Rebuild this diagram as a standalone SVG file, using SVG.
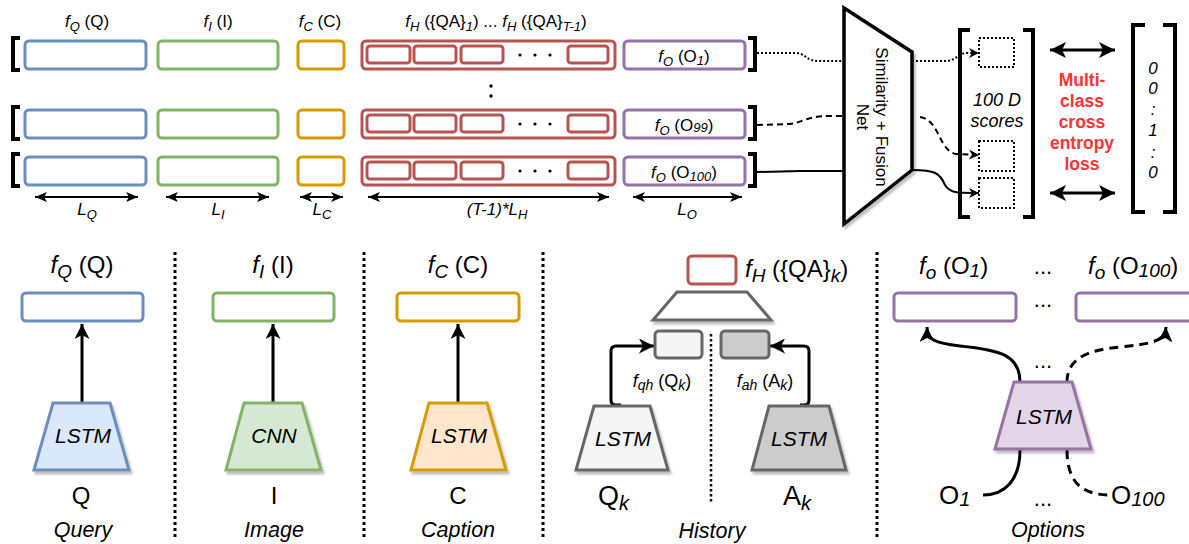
<svg xmlns="http://www.w3.org/2000/svg" width="1189" height="544" viewBox="0 0 1189 544">
<style>
.t{font-family:"Liberation Sans",Arial,Helvetica,sans-serif;fill:#000}
.i{font-style:italic}
.blue{fill:#fff;stroke:#6C8EBF;stroke-width:3}
.green{fill:#fff;stroke:#82B366;stroke-width:3}
.orange{fill:#fff;stroke:#D79B00;stroke-width:3}
.red{fill:#fff;stroke:#B85450;stroke-width:3}
.purple{fill:#fff;stroke:#9673A6;stroke-width:3}
.brk{fill:none;stroke:#000;stroke-width:4}
.sep{fill:none;stroke:#000;stroke-width:3;stroke-dasharray:3 3}
.ln{fill:none;stroke:#000}
.dsq{fill:#fff;stroke:#000;stroke-width:2;stroke-dasharray:2 2}
.loss{font-family:"Liberation Sans",Arial,sans-serif;font-weight:bold;fill:#FF3333;font-size:17.5px}
</style>
<defs>
<filter id="sh" x="-20%" y="-20%" width="150%" height="150%">
<feDropShadow dx="2" dy="3" stdDeviation="1.2" flood-color="#000" flood-opacity="0.25"/>
</filter>
<marker id="aS" markerUnits="userSpaceOnUse" markerWidth="10" markerHeight="10" refX="10" refY="5" orient="auto" viewBox="0 0 10 10">
<path d="M0,0 L10,5 L0,10 L3,5 z" fill="#000"/>
</marker>
<marker id="aL" markerUnits="userSpaceOnUse" markerWidth="12" markerHeight="10" refX="12" refY="5" orient="auto-start-reverse" viewBox="0 0 12 10">
<path d="M0,0 L12,5 L0,10 L3,5 z" fill="#000"/>
</marker>
<marker id="aB" markerUnits="userSpaceOnUse" markerWidth="16" markerHeight="16" refX="16" refY="8" orient="auto-start-reverse" viewBox="0 0 16 16">
<path d="M0,0 L16,8 L0,16 L4,8 z" fill="#000"/>
</marker>
<marker id="aM" markerUnits="userSpaceOnUse" markerWidth="15" markerHeight="15" refX="15" refY="7.5" orient="auto" viewBox="0 0 15 15">
<path d="M0,0 L15,7.5 L0,15 L4,7.5 z" fill="#000"/>
</marker>
<g id="row">
<path class="brk" d="M20 38 H13 V70 H20"/>
<rect class="blue" x="25" y="41" width="121" height="28" rx="4"/>
<rect class="green" x="158" y="41" width="120" height="28" rx="4"/>
<rect class="orange" x="298" y="41" width="46" height="28" rx="4"/>
<rect class="red" x="362" y="41" width="253" height="28" rx="4"/>
<rect class="red" x="367" y="46" width="43" height="17" rx="3"/>
<rect class="red" x="414" y="46" width="42" height="17" rx="3"/>
<rect class="red" x="461" y="46" width="42" height="17" rx="3"/>
<rect class="red" x="568" y="46" width="40" height="17" rx="3"/>
<circle cx="520" cy="55" r="1.6"/>
<circle cx="535" cy="55" r="1.6"/>
<circle cx="550" cy="55" r="1.6"/>
<rect class="purple" x="624" y="41" width="121" height="28" rx="4"/>
<path class="brk" d="M748 38 H755 V70 H748"/>
</g>
</defs>

<g id="top-labels">
<text class="t" x="87" y="27" font-size="17" text-anchor="middle"><tspan class="i">f</tspan><tspan class="i" font-size="13" dy="4">Q</tspan><tspan dy="-4"> (Q)</tspan></text>
<text class="t" x="218" y="27" font-size="17" text-anchor="middle"><tspan class="i">f</tspan><tspan class="i" font-size="13" dy="4">I</tspan><tspan dy="-4"> (I)</tspan></text>
<text class="t" x="320" y="27" font-size="17" text-anchor="middle"><tspan class="i">f</tspan><tspan class="i" font-size="13" dy="4">C</tspan><tspan dy="-4"> (C)</tspan></text>
<text class="t" x="496" y="27" font-size="17" text-anchor="middle"><tspan class="i">f</tspan><tspan class="i" font-size="13" dy="4">H</tspan><tspan dy="-4"> ({QA}</tspan><tspan class="i" font-size="13" dy="4">1</tspan><tspan dy="-4">) ... </tspan><tspan class="i">f</tspan><tspan class="i" font-size="13" dy="4">H</tspan><tspan dy="-4"> ({QA}</tspan><tspan class="i" font-size="13" dy="4">T-1</tspan><tspan dy="-4">)</tspan></text>
</g>

<g id="row1"><use href="#row"/>
<text class="t" x="684" y="62" font-size="17" text-anchor="middle"><tspan class="i">f</tspan><tspan class="i" font-size="13" dy="4">O</tspan><tspan dy="-4"> (O</tspan><tspan class="i" font-size="13" dy="3">1</tspan><tspan dy="-3">)</tspan></text>
</g>
<g id="row-dots">
<circle cx="491" cy="86" r="1.7"/>
<circle cx="491" cy="96" r="1.7"/>
</g>
<g id="row99"><use href="#row" y="69"/>
<text class="t" x="684" y="131" font-size="17" text-anchor="middle"><tspan class="i">f</tspan><tspan class="i" font-size="13" dy="4">O</tspan><tspan dy="-4"> (O</tspan><tspan class="i" font-size="13" dy="1">99</tspan><tspan dy="-1">)</tspan></text>
</g>
<g id="row100"><use href="#row" y="116"/>
<text class="t" x="684" y="178" font-size="17" text-anchor="middle"><tspan class="i">f</tspan><tspan class="i" font-size="13" dy="4">O</tspan><tspan dy="-4"> (O</tspan><tspan class="i" font-size="13" dy="3">100</tspan><tspan dy="-3">)</tspan></text>
</g>

<g id="length-labels">
<line class="ln" stroke-width="2" x1="35" y1="197" x2="138" y2="197" marker-start="url(#aL)" marker-end="url(#aL)"/>
<line class="ln" stroke-width="2" x1="166" y1="197" x2="269" y2="197" marker-start="url(#aL)" marker-end="url(#aL)"/>
<line class="ln" stroke-width="2" x1="300" y1="197" x2="343" y2="197" marker-start="url(#aL)" marker-end="url(#aL)"/>
<line class="ln" stroke-width="2" x1="368" y1="197" x2="609" y2="197" marker-start="url(#aL)" marker-end="url(#aL)"/>
<line class="ln" stroke-width="2" x1="633" y1="197" x2="742" y2="197" marker-start="url(#aL)" marker-end="url(#aL)"/>
<text class="t i" x="87" y="215" font-size="17" text-anchor="middle">L<tspan font-size="13" dy="4">Q</tspan></text>
<text class="t i" x="218" y="215" font-size="17" text-anchor="middle">L<tspan font-size="13" dy="4">I</tspan></text>
<text class="t i" x="322" y="215" font-size="17" text-anchor="middle">L<tspan font-size="13" dy="4">C</tspan></text>
<text class="t i" x="497" y="215" font-size="17" text-anchor="middle">(T-1)*L<tspan font-size="13" dy="4">H</tspan></text>
<text class="t i" x="687" y="215" font-size="17" text-anchor="middle">L<tspan font-size="13" dy="4">O</tspan></text>
</g>

<g id="simnet">
<polygon points="844,8 912,52 912,170 844,224" fill="#fff" stroke="#000" stroke-width="3.5" filter="url(#sh)"/>
<text class="t" font-size="17" text-anchor="middle" transform="translate(878,117) rotate(90)"><tspan x="0" y="2">Similarity + Fusion</tspan><tspan x="0" y="21">Net</tspan></text>
</g>

<g id="scores">
<path class="brk" d="M970 30 H960 V217 H970"/>
<path class="brk" d="M1023 30 H1033 V217 H1023"/>
<rect class="dsq" x="979" y="38" width="35" height="29"/>
<rect class="dsq" x="979" y="141" width="35" height="30"/>
<rect class="dsq" x="979" y="178" width="35" height="30"/>
<text class="t i" x="997" y="106" font-size="18" text-anchor="middle">100 D</text>
<text class="t i" x="997" y="127" font-size="18" text-anchor="middle">scores</text>
</g>

<g id="loss">
<line class="ln" stroke-width="3" x1="1050" y1="50" x2="1115" y2="50" marker-start="url(#aB)" marker-end="url(#aB)"/>
<line class="ln" stroke-width="3" x1="1050" y1="193" x2="1115" y2="193" marker-start="url(#aB)" marker-end="url(#aB)"/>
<text class="loss" x="1082" y="86" text-anchor="middle">Multi-</text>
<text class="loss" x="1082" y="107" text-anchor="middle">class</text>
<text class="loss" x="1082" y="128" text-anchor="middle">cross</text>
<text class="loss" x="1082" y="149" text-anchor="middle">entropy</text>
<text class="loss" x="1082" y="170" text-anchor="middle">loss</text>
</g>

<g id="gt-vector">
<path class="brk" d="M1145 25 H1133 V212 H1145"/>
<path class="brk" d="M1163 25 H1175 V212 H1163"/>
<text class="t i" x="1153" y="74" font-size="17" text-anchor="middle">0</text>
<text class="t i" x="1153" y="94" font-size="17" text-anchor="middle">0</text>
<text class="t i" x="1153" y="115" font-size="17" text-anchor="middle">:</text>
<text class="t i" x="1153" y="136" font-size="17" text-anchor="middle">1</text>
<text class="t i" x="1153" y="158" font-size="17" text-anchor="middle">:</text>
<text class="t i" x="1153" y="178" font-size="17" text-anchor="middle">0</text>
</g>

<g id="connectors">
<path class="ln" stroke-width="2" stroke-dasharray="2 2" d="M757 53 L795 53 C806 53 806 61 818 61 L844 61"/>
<path class="ln" stroke-width="2" stroke-dasharray="2 2" d="M912 61 L945 61 C957 61 957 53 968 53 L979 53" marker-end="url(#aS)"/>
<path class="ln" stroke-width="2" stroke-dasharray="6 4" d="M757 125 L790 124 C802 123 806 116 830 116 L844 116"/>
<path class="ln" stroke-width="2" stroke-dasharray="6 4" d="M920 117 C940 120 938 150 956 154 L979 155" marker-end="url(#aS)"/>
<path class="ln" stroke-width="2" d="M757 172 L800 171 L844 171"/>
<path class="ln" stroke-width="2" d="M912 170 C935 170 940 173 945 185 C950 193 956 193 979 193" marker-end="url(#aS)"/>
<line class="ln" stroke-width="3" x1="82" y1="403" x2="82" y2="324" marker-end="url(#aM)"/>
<line class="ln" stroke-width="3" x1="273" y1="403" x2="273" y2="324" marker-end="url(#aM)"/>
<line class="ln" stroke-width="3" x1="458" y1="403" x2="458" y2="324" marker-end="url(#aM)"/>
<path class="ln" stroke-width="3" d="M621 405 L616 405 Q611 405 611 400 L611 351 Q611 346 616 346 L654 346" marker-end="url(#aM)"/>
<path class="ln" stroke-width="3" d="M800 405 L804 405 Q809 405 809 400 L809 351 Q809 346 804 346 L770 346" marker-end="url(#aM)"/>
<path class="ln" stroke-width="3" d="M1020 382 C1020 355 1000 350 960 346 C935 343 927 340 927 327" marker-end="url(#aM)"/>
<path class="ln" stroke-width="3" stroke-dasharray="9 6" d="M1067 382 C1067 360 1085 350 1120 347 C1150 344 1165 342 1166 327" marker-end="url(#aM)"/>
<path class="ln" stroke-width="3" d="M1020 450 C1020 480 1005 495 983 495"/>
<path class="ln" stroke-width="3" stroke-dasharray="9 6" d="M1067 450 C1067 480 1080 495 1110 495"/>
</g>

<g id="separators">
<line class="sep" x1="175" y1="252" x2="175" y2="540"/>
<line class="sep" x1="364" y1="252" x2="364" y2="540"/>
<line class="sep" x1="543" y1="252" x2="543" y2="540"/>
<line class="sep" x1="877" y1="252" x2="877" y2="540"/>
</g>

<g id="query">
<text class="t" x="82" y="273" font-size="24" text-anchor="middle"><tspan class="i">f</tspan><tspan class="i" font-size="19" dy="5">Q</tspan><tspan dy="-5"> (Q)</tspan></text>
<rect class="blue" x="22" y="293" width="121" height="28" rx="4"/>
<polygon points="53,403 110,403 129,470 34,470" fill="#DAE8FC" stroke="#6C8EBF" stroke-width="3" filter="url(#sh)"/>
<text class="t i" x="83" y="443" font-size="21" text-anchor="middle">LSTM</text>
<text class="t" x="81" y="504" font-size="24" text-anchor="middle">Q</text>
<text class="t i" x="83" y="537" font-size="21.5" text-anchor="middle">Query</text>
</g>

<g id="image">
<text class="t" x="273" y="273" font-size="24" text-anchor="middle"><tspan class="i">f</tspan><tspan class="i" font-size="19" dy="5">I</tspan><tspan dy="-5"> (I)</tspan></text>
<rect class="green" x="213" y="293" width="121" height="28" rx="4"/>
<polygon points="244,403 302,403 321,470 226,470" fill="#D5E8D4" stroke="#82B366" stroke-width="3" filter="url(#sh)"/>
<text class="t i" x="274" y="443" font-size="21" text-anchor="middle">CNN</text>
<text class="t" x="274" y="504" font-size="24" text-anchor="middle">I</text>
<text class="t i" x="274" y="537" font-size="21.5" text-anchor="middle">Image</text>
</g>

<g id="caption">
<text class="t" x="458" y="273" font-size="24" text-anchor="middle"><tspan class="i">f</tspan><tspan class="i" font-size="19" dy="5">C</tspan><tspan dy="-5"> (C)</tspan></text>
<rect class="orange" x="397" y="293" width="122" height="28" rx="4"/>
<polygon points="429,403 487,403 506,470 411,470" fill="#FFE6CC" stroke="#D79B00" stroke-width="3" filter="url(#sh)"/>
<text class="t i" x="459" y="443" font-size="21" text-anchor="middle">LSTM</text>
<text class="t" x="458" y="504" font-size="24" text-anchor="middle">C</text>
<text class="t i" x="458" y="537" font-size="21.5" text-anchor="middle">Caption</text>
</g>

<g id="history">
<rect class="red" x="688" y="256" width="48" height="28" rx="4"/>
<text class="t" x="745" y="277" font-size="24"><tspan class="i">f</tspan><tspan class="i" font-size="19" dy="5">H</tspan><tspan dy="-5"> ({QA}</tspan><tspan class="i" font-size="19" dy="5">k</tspan><tspan dy="-5">)</tspan></text>
<polygon points="677,292 747,292 771,320 653,320" fill="#fff" stroke="#666" stroke-width="3" filter="url(#sh)"/>
<rect x="655" y="331" width="47" height="27" rx="4" fill="#F5F5F5" stroke="#666" stroke-width="3"/>
<rect x="721" y="331" width="48" height="27" rx="4" fill="#CCCCCC" stroke="#666" stroke-width="3"/>
<line x1="711" y1="334" x2="711" y2="503" stroke="#000" stroke-width="2.5" stroke-dasharray="2.5 2.5"/>
<text class="t" x="662" y="387" font-size="18" text-anchor="middle"><tspan class="i">f</tspan><tspan class="i" font-size="14" dy="3">qh</tspan><tspan dy="-3"> (Q</tspan><tspan class="i" font-size="14" dy="3">k</tspan><tspan dy="-3">)</tspan></text>
<text class="t" x="765" y="387" font-size="18" text-anchor="middle"><tspan class="i">f</tspan><tspan class="i" font-size="14" dy="3">ah</tspan><tspan dy="-3"> (A</tspan><tspan class="i" font-size="14" dy="3">k</tspan><tspan dy="-3">)</tspan></text>
<polygon points="594,406 650,406 668,470 576,470" fill="#F5F5F5" stroke="#666" stroke-width="3" filter="url(#sh)"/>
<polygon points="769,406 829,406 846,470 752,470" fill="#CCCCCC" stroke="#666" stroke-width="3" filter="url(#sh)"/>
<text class="t i" x="623" y="446" font-size="21" text-anchor="middle">LSTM</text>
<text class="t i" x="799" y="446" font-size="21" text-anchor="middle">LSTM</text>
<text class="t" x="598" y="505" font-size="27">Q<tspan class="i" font-size="20" dy="5">k</tspan></text>
<text class="t" x="783" y="505" font-size="27">A<tspan class="i" font-size="20" dy="5">k</tspan></text>
<text class="t i" x="712" y="538" font-size="21.5" text-anchor="middle">History</text>
</g>

<g id="options">
<text class="t" x="919" y="274" font-size="24"><tspan class="i">f</tspan><tspan class="i" font-size="19" dy="5">o</tspan><tspan dy="-5"> (O</tspan><tspan class="i" font-size="19" dy="3">1</tspan><tspan dy="-3">)</tspan></text>
<text class="t" x="1043" y="274" font-size="22" text-anchor="middle">...</text>
<text class="t" x="1088" y="274" font-size="24"><tspan class="i">f</tspan><tspan class="i" font-size="19" dy="5">o</tspan><tspan dy="-5"> (O</tspan><tspan class="i" font-size="19" dy="3">100</tspan><tspan dy="-3">)</tspan></text>
<rect class="purple" x="894" y="293" width="122" height="28" rx="4"/>
<text class="t" x="1043" y="307" font-size="22" text-anchor="middle">...</text>
<rect class="purple" x="1076" y="293" width="122" height="28" rx="4"/>
<text class="t" x="1043" y="368" font-size="22" text-anchor="middle">...</text>
<polygon points="1014,382 1072,382 1091,449 995,449" fill="#E1D5E7" stroke="#9673A6" stroke-width="3" filter="url(#sh)"/>
<text class="t i" x="1044" y="424" font-size="21" text-anchor="middle">LSTM</text>
<text class="t" x="939" y="504" font-size="26">O<tspan class="i" font-size="20" dy="2">1</tspan></text>
<text class="t" x="1043" y="506" font-size="22" text-anchor="middle">...</text>
<text class="t" x="1111" y="504" font-size="26">O<tspan class="i" font-size="20" dy="2">100</tspan></text>
<text class="t i" x="1048" y="537" font-size="21.5" text-anchor="middle">Options</text>
</g>
</svg>
